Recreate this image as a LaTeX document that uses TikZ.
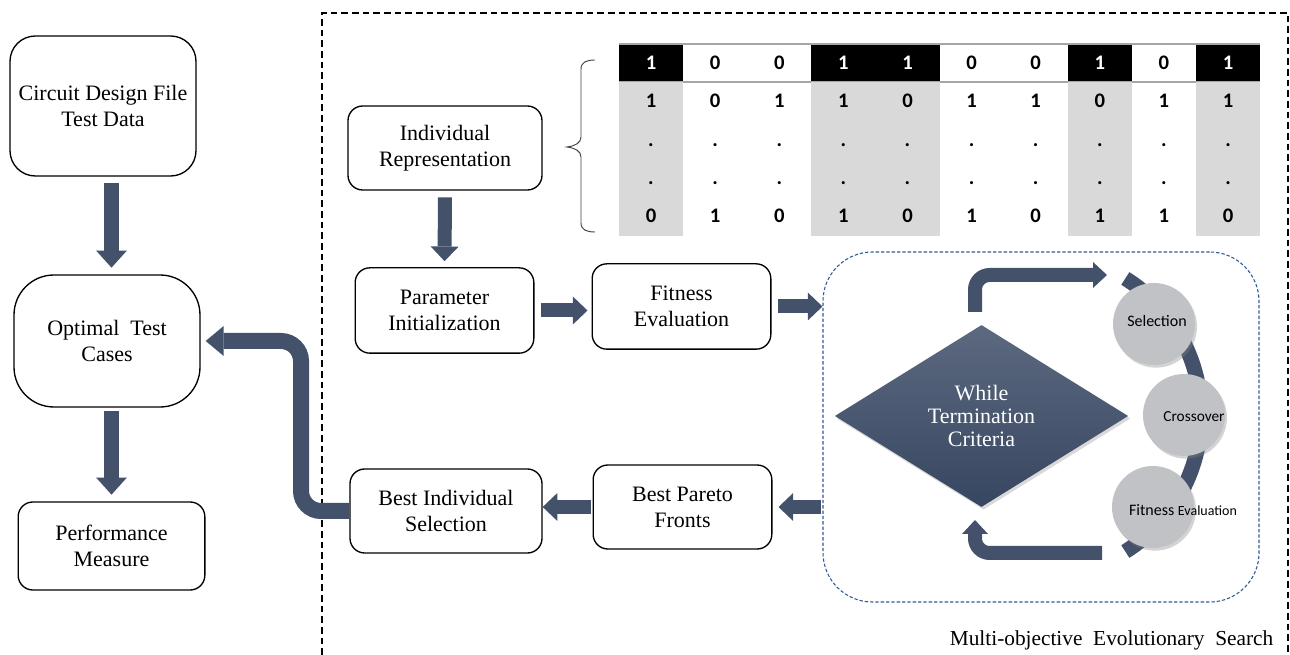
\documentclass[tikz,border=0pt]{standalone}
\usepackage{fontspec}
\setmainfont{Liberation Serif}
\newfontfamily\bitfont{Carlito}
\usetikzlibrary{arrows.meta,shapes.geometric,shadows}
\definecolor{slate}{RGB}{67,82,106}
\definecolor{slateTop}{RGB}{92,105,128}
\definecolor{slateBot}{RGB}{55,70,96}
\definecolor{loopBlue}{RGB}{46,89,150}
\definecolor{cellGray}{RGB}{217,217,217}
\definecolor{ballGray}{RGB}{192,194,198}
\newcommand{\pxScale}{0.75pt}
\newcommand{\boxFont}{\fontsize{16.5}{19.5}\selectfont}
\newcommand{\bitFont}{\bitfont\bfseries\fontsize{15.5}{18}\selectfont}
\newcommand{\ballFont}{\bitfont\fontsize{12}{14}\selectfont}
\tikzset{
  procbox/.style={draw, line width=1pt, align=center, font=\boxFont, inner sep=2pt},
  bigArrow/.style={slate, line width=11.25pt, -{Triangle[length=12.75pt,width=23pt,line width=0pt]}},
  midArrow/.style={slate, line width=10.5pt, -{Triangle[length=11pt,width=21pt,line width=0pt]}},
  bendArrow/.style={slate, line width=12pt, -{Triangle[length=13.5pt,width=22.5pt,line width=0pt]}},
  loopArrow/.style={slate, line width=10.5pt, -{Triangle[length=10.5pt,width=19.5pt,line width=0pt]}},
  bit/.style={font=\bitFont, inner sep=0pt},
  bitw/.style={bit, text=white},
  ball/.style={circle, fill=ballGray, minimum size=61.5pt, inner sep=0pt,
    drop shadow={shadow xshift=1.5pt, shadow yshift=-2pt, opacity=0.35}},
  ballText/.style={font=\ballFont, inner sep=0pt}
}

\begin{document}
\begin{tikzpicture}[x=\pxScale, y=-\pxScale]
\useasboundingbox (0,0) rectangle (1290,655);

% left column
\node[procbox, rounded corners=19pt, minimum width=139.5pt, minimum height=105pt] (circuit) at (103,106) {Circuit Design File\\Test Data};
\node[procbox, rounded corners=30pt, minimum width=139.5pt, minimum height=99pt] (optimal) at (107,341) {Optimal\ \ Test\\Cases};
\node[procbox, rounded corners=11pt, minimum width=140pt, minimum height=66pt] (perf) at (111.5,546) {Performance\\Measure};
\draw[bigArrow, shorten <=5pt, shorten >=5pt] (circuit.south -| perf) -- (optimal.north -| perf);
\draw[bigArrow, shorten <=2.5pt, shorten >=5pt] (optimal.south -| perf) -- (perf.north);

% search frame
\draw[line width=0.9pt, dash pattern=on 5pt off 3pt] (322,655) -- (322,13) -- (1288,13) -- (1288,655);
\node[font=\fontsize{16}{19}\selectfont, anchor=east] (searchlabel) at (1278,640) {Multi-objective\ \ Evolutionary\ \ Search};

% chromosome table
\fill[black] (619,44) rectangle (683.1,82);
\fill[black] (811.3,44) rectangle (939.5,82);
\fill[black] (1067.7,44) rectangle (1131.8,82);
\fill[black] (1195.9,44) rectangle (1260,82);
\draw[gray!70, line width=1pt] (619,44) -- (1260,44);
\draw[gray!70, line width=1pt] (619,82) -- (1260,82);
\fill[cellGray] (619,82) rectangle (683.1,236);
\fill[cellGray] (811.3,82) rectangle (939.5,236);
\fill[cellGray] (1067.7,82) rectangle (1131.8,236);
\fill[cellGray] (1195.9,82) rectangle (1260,236);
\node[bitw] (r1c1) at (651,63) {1};
\node[bit] (r1c2) at (715.2,63) {0};
\node[bit] (r1c3) at (779.3,63) {0};
\node[bitw] (r1c4) at (843.4,63) {1};
\node[bitw] (r1c5) at (907.5,63) {1};
\node[bit] (r1c6) at (971.6,63) {0};
\node[bit] (r1c7) at (1035.7,63) {0};
\node[bitw] (r1c8) at (1099.8,63) {1};
\node[bit] (r1c9) at (1163.9,63) {0};
\node[bitw] (r1c10) at (1228,63) {1};
\node[bit] (r2c1) at (651,101) {1};
\node[bit] (r2c2) at (715.2,101) {0};
\node[bit] (r2c3) at (779.3,101) {1};
\node[bit] (r2c4) at (843.4,101) {1};
\node[bit] (r2c5) at (907.5,101) {0};
\node[bit] (r2c6) at (971.6,101) {1};
\node[bit] (r2c7) at (1035.7,101) {1};
\node[bit] (r2c8) at (1099.8,101) {0};
\node[bit] (r2c9) at (1163.9,101) {1};
\node[bit] (r2c10) at (1228,101) {1};
\node[bit] (r3c1) at (651,145) {.}; \node[bit] (r3c2) at (715.2,145) {.};
\node[bit] (r3c3) at (779.3,145) {.}; \node[bit] (r3c4) at (843.4,145) {.};
\node[bit] (r3c5) at (907.5,145) {.}; \node[bit] (r3c6) at (971.6,145) {.};
\node[bit] (r3c7) at (1035.7,145) {.}; \node[bit] (r3c8) at (1099.8,145) {.};
\node[bit] (r3c9) at (1163.9,145) {.}; \node[bit] (r3c10) at (1228,145) {.};
\node[bit] (r4c1) at (651,183) {.}; \node[bit] (r4c2) at (715.2,183) {.};
\node[bit] (r4c3) at (779.3,183) {.}; \node[bit] (r4c4) at (843.4,183) {.};
\node[bit] (r4c5) at (907.5,183) {.}; \node[bit] (r4c6) at (971.6,183) {.};
\node[bit] (r4c7) at (1035.7,183) {.}; \node[bit] (r4c8) at (1099.8,183) {.};
\node[bit] (r4c9) at (1163.9,183) {.}; \node[bit] (r4c10) at (1228,183) {.};
\node[bit] (r5c1) at (651,216) {0};
\node[bit] (r5c2) at (715.2,216) {1};
\node[bit] (r5c3) at (779.3,216) {0};
\node[bit] (r5c4) at (843.4,216) {1};
\node[bit] (r5c5) at (907.5,216) {0};
\node[bit] (r5c6) at (971.6,216) {1};
\node[bit] (r5c7) at (1035.7,216) {0};
\node[bit] (r5c8) at (1099.8,216) {1};
\node[bit] (r5c9) at (1163.9,216) {1};
\node[bit] (r5c10) at (1228,216) {0};
% brace
\draw[black!75, line width=0.7pt] (595,60) .. controls (587,60) and (581,62) .. (581,69) -- (581,137)
  .. controls (581,143) and (575,146) .. (567,147) .. controls (575,148) and (581,151) .. (581,157)
  -- (581,223) .. controls (581,230) and (587,232) .. (595,232);

% evolutionary steps
\node[procbox, rounded corners=11pt, minimum width=145.5pt, minimum height=63pt] (indiv) at (445,148) {Individual\\Representation};
\node[procbox, rounded corners=11pt, minimum width=134pt, minimum height=64pt] (param) at (444.5,310.5) {Parameter\\Initialization};
\node[procbox, rounded corners=11pt, minimum width=134pt, minimum height=64pt] (fitness) at (681.5,306.5) {Fitness\\Evaluation};
\node[procbox, rounded corners=11pt, minimum width=134pt, minimum height=63pt] (pareto) at (682.5,507) {Best Pareto\\Fronts};
\node[procbox, rounded corners=11pt, minimum width=144pt, minimum height=63pt] (bestind) at (446,511) {Best Individual\\Selection};
\node[draw=loopBlue, line width=0.8pt, dash pattern=on 2.5pt off 1.5pt, rounded corners=37pt, minimum width=327pt, minimum height=262.5pt] (loopbox) at (1041,427) {};

\draw[midArrow, shorten <=5pt, shorten >=4.5pt] (indiv.south) -- (param.north);
\draw[midArrow, shorten <=4.5pt, shorten >=3pt] (param.east) -- (param.east -| fitness.west);
\draw[midArrow, shorten <=4.5pt] (fitness.east) -- (fitness.east -| loopbox.west);
\draw[midArrow, shorten <=1pt, shorten >=4.5pt] (loopbox.west |- pareto.east) -- (pareto.east);
\draw[midArrow, shorten <=1.5pt] (pareto.west) -- (pareto.west -| bestind.east);
\coordinate (bendTop) at (301,341);
\draw[bendArrow, rounded corners=15pt, shorten >=3.75pt] (bestind.west) -| (bendTop) -- (optimal.east);

% GA loop
\node[diamond, minimum width=220pt, minimum height=136.5pt, inner sep=0pt, top color=slateTop, bottom color=slateBot,
  drop shadow={shadow xshift=1.5pt, shadow yshift=-2pt, opacity=0.3},
  text=white, align=center, font=\fontsize{16.5}{17.5}\selectfont] (criteria) at (981.5,416) {While\\Termination\\Criteria};
\coordinate (arcC) at (1040,415);
\draw[slate, line width=11.25pt] ([shift={(-58:161)}]arcC) arc[start angle=-58, end angle=58, radius=161];
\coordinate (topStart) at (975,312);
\coordinate (topEnd) at (1107,275);
\coordinate (botStart) at (1102,553);
\coordinate (botEnd) at (975,520);
\draw[loopArrow, rounded corners=11pt] (topStart) |- (topEnd);
\draw[loopArrow, rounded corners=11pt] (botStart) -| (botEnd);
\node[ball] (ballSel) at (1154,324) {};
\node[ball] (ballCross) at (1184,415) {};
\node[ball] (ballFit) at (1153,507) {};
\node[ballText] (selText) at (1157,321) {Selection};
\node[ballText, font=\bitfont\fontsize{11.5}{14}\selectfont] (crossText) at (1194,417) {Crossover};
\node[ballText] (fitText) at (1183,510) {{\fontsize{12}{14}\selectfont Fitness}\ {\fontsize{10.5}{14}\selectfont Evaluation}};
\end{tikzpicture}
\end{document}
